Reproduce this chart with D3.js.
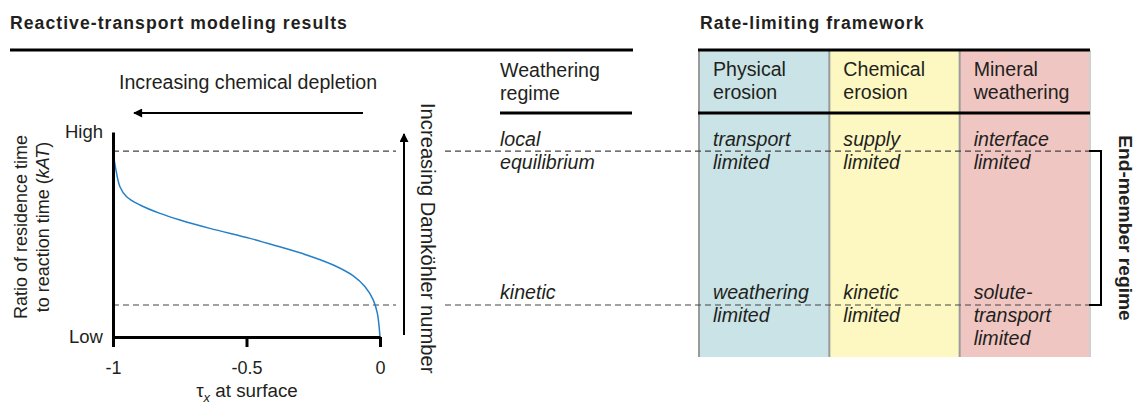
<!DOCTYPE html>
<html>
<head>
<meta charset="utf-8">
<script src="https://cdn.jsdelivr.net/npm/d3@7"></script>
<style>
  html, body { margin: 0; padding: 0; background: #fff; }
  svg { display: block; font-family: "Liberation Sans", Arial, sans-serif; }
</style>
</head>
<body>
<svg id="chart" width="1139" height="404"></svg>
<script>
// ---------------- data ----------------
const tauValues   = [-1, -0.989, -0.974, -0.949, -0.899, -0.824, -0.749, -0.637, -0.487, -0.400, -0.275, -0.175, -0.100, -0.056, -0.025, -0.010, 0];
const ratioValues = [0.907, 0.815, 0.733, 0.684, 0.644, 0.603, 0.571, 0.530, 0.481, 0.449, 0.400, 0.351, 0.298, 0.245, 0.180, 0.116, 0.0];
const xTicks = [-1, -0.5, 0];
const xTickLabels = ["-1", "-0.5", "0"];
const yTickLabels = ["Low", "High"];
const regimeLevels = [0.907, 0.156];          // local equilibrium, kinetic
const regimeLabels = [["local", "equilibrium"], ["kinetic"]];
const frameworkColumns = [["Physical", "erosion"], ["Chemical", "erosion"], ["Mineral", "weathering"]];
const columnColors = ["#c9e3e6", "#fdf8c1", "#f0c6c2"];
const cellTexts = [
  [["transport", "limited"], ["weathering", "limited"]],
  [["supply", "limited"], ["kinetic", "limited"]],
  [["interface", "limited"], ["solute-", "transport", "limited"]]
];

// ---------------- setup ----------------
const svg = d3.select("#chart");
const ink = "#231f20";
const FS = 19.6;

const x = d3.scaleLinear().domain([-1, 0]).range([113, 380]);
const y = d3.scaleLinear().domain([0, 1]).range([337, 132]);

// arrow marker
const defs = svg.append("defs");
defs.append("marker").attr("id", "ah").attr("viewBox", "0 0 10 10")
  .attr("refX", 9).attr("refY", 5).attr("markerWidth", 5).attr("markerHeight", 4.5)
  .attr("markerUnits", "strokeWidth").attr("orient", "auto")
  .append("path").attr("d", "M0,0 L10,5 L0,10 z").attr("fill", "#000");

// ---------------- titles ----------------
svg.append("text").attr("x", 10).attr("y", 29).attr("font-weight", "bold")
  .attr("font-size", 17.6).attr("letter-spacing", 1.05).attr("fill", ink)
  .text("Reactive-transport modeling results");
svg.append("text").attr("x", 700).attr("y", 29).attr("font-weight", "bold")
  .attr("font-size", 17.6).attr("letter-spacing", 1.05).attr("fill", ink)
  .text("Rate-limiting framework");
svg.append("line").attr("x1", 10).attr("x2", 633).attr("y1", 50).attr("y2", 50)
  .attr("stroke", "#000").attr("stroke-width", 3);

// ---------------- table background ----------------
const colX = d3.scaleBand().domain(d3.range(frameworkColumns.length)).range([699, 1090]).padding(0);
const tableTop = 50, headerBottom = 113, tableBottom = 357;
svg.selectAll("rect.col").data(frameworkColumns).join("rect").attr("class", "col")
  .attr("x", (d, i) => colX(i)).attr("y", tableTop)
  .attr("width", colX.bandwidth()).attr("height", tableBottom - tableTop)
  .attr("fill", (d, i) => columnColors[i]);
[0, 1, 2, 3].forEach(i => {
  const xx = i < 3 ? colX(i) : 1090;
  svg.append("line").attr("x1", xx).attr("x2", xx).attr("y1", tableTop).attr("y2", tableBottom)
    .attr("stroke", i === 3 ? "#cfcfcf" : "#9a9a9a").attr("stroke-width", 2);
});
svg.append("line").attr("x1", 698).attr("x2", 1090).attr("y1", tableTop).attr("y2", tableTop)
  .attr("stroke", "#000").attr("stroke-width", 3);
svg.append("line").attr("x1", 698).attr("x2", 1090).attr("y1", headerBottom).attr("y2", headerBottom)
  .attr("stroke", "#000").attr("stroke-width", 3);

// column headers
frameworkColumns.forEach((lines, i) => {
  const t = svg.append("text").attr("font-size", FS).attr("fill", ink);
  lines.forEach((l, j) => t.append("tspan").attr("x", colX(i) + 14).attr("y", 76 + j * 23).text(l));
});

// cell texts (italic)
const cellBase = [146, 299];
cellTexts.forEach((col, i) => {
  col.forEach((lines, r) => {
    const t = svg.append("text").attr("font-size", FS).attr("font-style", "italic").attr("fill", ink);
    lines.forEach((l, j) => t.append("tspan").attr("x", colX(i) + 14).attr("y", cellBase[r] + j * 23).text(l));
  });
});

// ---------------- regime header ----------------
const wr = svg.append("text").attr("font-size", FS).attr("fill", ink);
wr.append("tspan").attr("x", 500).attr("y", 77).text("Weathering");
wr.append("tspan").attr("x", 500).attr("y", 100).text("regime");
svg.append("line").attr("x1", 500).attr("x2", 632).attr("y1", 113).attr("y2", 113)
  .attr("stroke", "#000").attr("stroke-width", 3);
regimeLabels.forEach((lines, r) => {
  const t = svg.append("text").attr("font-size", FS).attr("font-style", "italic").attr("fill", ink);
  lines.forEach((l, j) => t.append("tspan").attr("x", 500).attr("y", cellBase[r] + j * 22.5).text(l));
});

// ---------------- dashed regime lines ----------------
regimeLevels.forEach(v => {
  [[113, 396], [445, 1090]].forEach(([a, b]) => {
    svg.append("line").attr("x1", a).attr("x2", b).attr("y1", y(v)).attr("y2", y(v))
      .attr("stroke", "#444").attr("stroke-width", 1.2).attr("stroke-dasharray", "6,4");
  });
});

// bracket
svg.append("path")
  .attr("d", `M1089,${y(regimeLevels[0])} H1101 V${y(regimeLevels[1])} H1089`)
  .attr("fill", "none").attr("stroke", "#000").attr("stroke-width", 2);
svg.append("text").attr("transform", `translate(1119,228) rotate(90)`)
  .attr("text-anchor", "middle").attr("font-weight", "bold").attr("font-size", 19.2)
  .attr("fill", ink).text("End-member regime");

// ---------------- plot ----------------
// curve
const pts = tauValues.map((t, i) => [t, ratioValues[i]]);
svg.append("path").datum(pts)
  .attr("d", d3.line().x(d => x(d[0])).y(d => y(d[1])).curve(d3.curveCatmullRom.alpha(0.5)))
  .attr("fill", "none").attr("stroke", "#2480c8").attr("stroke-width", 1.5);

// x axis
const xAxis = d3.axisBottom(x).tickValues(xTicks).tickFormat((d, i) => xTickLabels[i])
  .tickSize(10).tickSizeOuter(0).tickPadding(14);
const gx = svg.append("g").attr("transform", `translate(0,${y(0)})`).call(xAxis);
gx.select(".domain").attr("stroke", "#000").attr("stroke-width", 3);
gx.selectAll(".tick line").attr("stroke", "#000").attr("stroke-width", 3);
gx.selectAll(".tick text").attr("font-size", 18).attr("fill", ink)
  .attr("font-family", "'Liberation Sans', Arial, sans-serif");

// y axis
const yAxis = d3.axisLeft(y).tickValues([0, 1]).tickFormat((d, i) => yTickLabels[i])
  .tickSize(0).tickSizeOuter(0).tickPadding(10);
const gy = svg.append("g").attr("transform", `translate(${x(-1)},0)`).call(yAxis);
gy.select(".domain").attr("stroke", "#000").attr("stroke-width", 3);
gy.selectAll(".tick text").attr("font-size", 18.5).attr("fill", ink)
  .attr("font-family", "'Liberation Sans', Arial, sans-serif");

// y label
const yl = svg.append("text").attr("transform", "translate(27,227) rotate(-90)")
  .attr("text-anchor", "middle").attr("font-size", 18).attr("fill", ink);
yl.append("tspan").attr("x", 0).attr("y", 0).text("Ratio of residence time");
yl.append("tspan").attr("x", 0).attr("y", 22).text("to reaction time (");
yl.append("tspan").attr("font-style", "italic").text("kAT");
yl.append("tspan").text(")");

// x label
const xl = svg.append("text").attr("x", 247).attr("y", 397).attr("text-anchor", "middle")
  .attr("font-size", 18.8).attr("fill", ink);
xl.append("tspan").text("τ");
xl.append("tspan").attr("font-style", "italic").attr("font-size", 13).attr("dy", 5).text("x");
xl.append("tspan").attr("dy", -5).text(" at surface");

// horizontal arrow + text
svg.append("text").attr("x", 119).attr("y", 89).attr("font-size", FS).attr("fill", ink)
  .text("Increasing chemical depletion");
svg.append("line").attr("x1", 363).attr("x2", 134).attr("y1", 113).attr("y2", 113)
  .attr("stroke", "#000").attr("stroke-width", 2).attr("marker-end", "url(#ah)");

// vertical arrow + text
svg.append("line").attr("x1", 404).attr("x2", 404).attr("y1", 335).attr("y2", 134)
  .attr("stroke", "#000").attr("stroke-width", 2).attr("marker-end", "url(#ah)");
svg.append("text").attr("transform", "translate(421,103) rotate(90)")
  .attr("font-size", 20.2).attr("fill", ink).text("Increasing Damköhler number");
</script>
</body>
</html>
